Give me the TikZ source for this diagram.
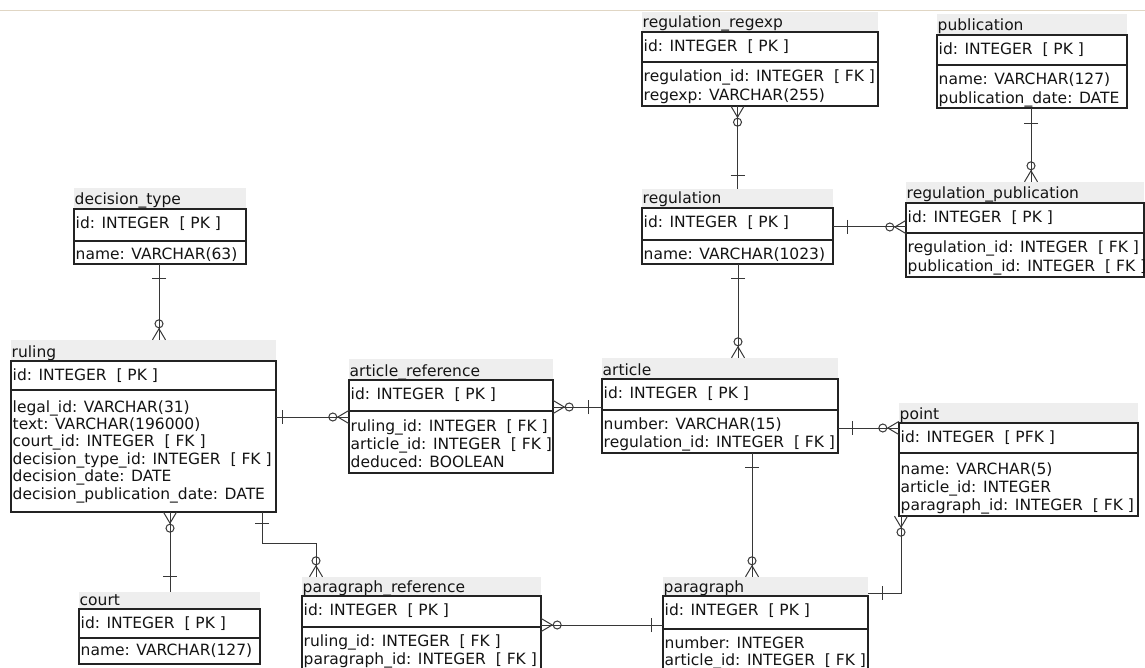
\documentclass[tikz,border=0pt]{standalone}
\usepackage{fontspec}
\setmainfont{DejaVu Sans}
\usetikzlibrary{fit}
\definecolor{hdrgray}{RGB}{238,238,238}
\definecolor{toplinec}{RGB}{224,214,196}
\definecolor{boxlinec}{RGB}{35,35,35}
\definecolor{connlinec}{RGB}{55,55,55}
\tikzset{
  txt/.style={anchor=base west, inner sep=0pt, font=\fontsize{15.5}{18}\selectfont, text=black!92},
  boxst/.style={draw=boxlinec, line width=1.2pt},
  conn/.style={draw=connlinec, line width=1pt},
}
\newcommand\ertable[9]{%
  \fill[hdrgray] (#3,#5) rectangle (#4,#6);
  \node[txt, name=#1-title] at (#3+0.5,#6-4) {#2};
  \draw[boxst] (#3,#6) rectangle (#4,#8);
  \draw[boxst] (#3,#7) -- (#4,#7);
  \node[txt, name=#1-pk] at (#3+1.5,#6+19.5) {#9};
  \coordinate (#1-nw) at (#3,#5);
  \coordinate (#1-se) at (#4,#8);
  \node[fit=(#1-nw)(#1-se), inner sep=0pt, name=#1] {};
}
\newcommand\erattrs[5]{%
  \foreach \t [count=\i] in {#5} {\node[txt, name=#1-a\i] at (#2+1.5, #3+\i*#4-#4) {\t};}
}
\newcommand\zmany[2]{\begin{scope}[shift={#1},rotate=#2]
  \draw[conn] (0,-6.5) -- (11,0) -- (0,6.5);
  \draw[conn] (16,0) circle[radius=4];
\end{scope}}
\newcommand\onebar[3]{\begin{scope}[shift={#1},rotate=#2]
  \draw[conn] (#3,-7) -- (#3,7);
\end{scope}}
\newcommand\PKt{id: INTEGER\ \ [ PK ]}
\begin{document}
\begin{tikzpicture}[x=1pt,y=-1pt]
\useasboundingbox (0,0) rectangle (1145,668);
\clip (0,0) rectangle (1145,668);
\fill[white] (0,0) rectangle (1145,668);
\draw[toplinec, line width=1pt] (0,10.5) -- (1145,10.5);

% tables
\ertable{dtype}{decision\_type}{74}{246}{188}{209}{241}{264}{\PKt}
\erattrs{dtype}{74}{260}{18}{{name: VARCHAR(63)}}

\ertable{ruling}{ruling}{11}{276}{340}{361}{390}{512}{\PKt}
\erattrs{ruling}{11}{412}{17.4}{{legal\_id: VARCHAR(31)},{text: VARCHAR(196000)},{court\_id: INTEGER\ \ [ FK ]},{decision\_type\_id: INTEGER\ \ [ FK ]},{decision\_date: DATE},{decision\_publication\_date: DATE}}

\ertable{court}{court}{79}{260}{592}{609}{638}{664}{\PKt}
\erattrs{court}{79}{655}{18}{{name: VARCHAR(127)}}

\ertable{aref}{article\_reference}{349}{553}{359}{380}{411}{473}{\PKt}
\erattrs{aref}{349}{431}{18.3}{{ruling\_id: INTEGER\ \ [ FK ]},{article\_id: INTEGER\ \ [ FK ]},{deduced: BOOLEAN}}

\ertable{article}{article}{602}{838}{358}{379}{410}{453}{\PKt}
\erattrs{article}{602}{429}{18.5}{{number: VARCHAR(15)},{regulation\_id: INTEGER\ \ [ FK ]}}

\ertable{point}{point}{899}{1138}{403}{423}{453}{516}{id: INTEGER\ \ [ PFK ]}
\erattrs{point}{899}{474}{18}{{name: VARCHAR(5)},{article\_id: INTEGER},{paragraph\_id: INTEGER\ \ [ FK ]}}

\ertable{regexp}{regulation\_regexp}{642}{878}{12}{32}{62}{106}{\PKt}
\erattrs{regexp}{642}{82}{18.5}{{regulation\_id: INTEGER\ \ [ FK ]},{regexp: VARCHAR(255)}}

\ertable{publication}{publication}{937}{1127}{14}{35}{65}{108}{\PKt}
\erattrs{publication}{937}{85}{18.5}{{name: VARCHAR(127)},{publication\_date: DATE}}

\ertable{regpub}{regulation\_publication}{906}{1144}{182}{203}{233}{277}{\PKt}
\erattrs{regpub}{906}{253}{18.5}{{regulation\_id: INTEGER\ \ [ FK ]},{publication\_id: INTEGER\ \ [ FK ]}}

\ertable{regulation}{regulation}{642}{833}{189}{208}{240}{264}{\PKt}
\erattrs{regulation}{642}{260}{18}{{name: VARCHAR(1023)}}

\ertable{pref}{paragraph\_reference}{302}{541}{577}{596}{627}{690}{\PKt}
\erattrs{pref}{302}{646}{18}{{ruling\_id: INTEGER\ \ [ FK ]},{paragraph\_id: INTEGER\ \ [ FK ]}}

\ertable{paragraph}{paragraph}{663}{868}{577}{596}{629}{690}{\PKt}
\erattrs{paragraph}{663}{648}{17.5}{{number: INTEGER},{article\_id: INTEGER\ \ [ FK ]}}

% connectors
\draw[conn] (dtype.south -| 159,0) -- (ruling.north -| 159,0);
\onebar{(dtype.south -| 159,0)}{-90}{14}
\zmany{(ruling.north -| 159,0)}{90}

\draw[conn] (ruling.south -| 170,0) -- (court.north -| 170,0);
\zmany{(ruling.south -| 170,0)}{-90}
\onebar{(court.north -| 170,0)}{90}{15}

\draw[conn] (ruling.east |- 0,417) -- (aref.west |- 0,417);
\onebar{(ruling.east |- 0,417)}{0}{6.5}
\zmany{(aref.west |- 0,417)}{180}

\draw[conn] (aref.east |- 0,407) -- (article.west |- 0,407);
\zmany{(aref.east |- 0,407)}{0}
\onebar{(article.west |- 0,407)}{180}{13}

\draw[conn] (ruling.south -| 262,0) -- (262,543) -| (pref.north -| 316,0);
\onebar{(ruling.south -| 262,0)}{-90}{11}
\zmany{(pref.north -| 316,0)}{90}

\draw[conn] (pref.east |- 0,625) -- (paragraph.west |- 0,625);
\zmany{(pref.east |- 0,625)}{0}
\onebar{(paragraph.west |- 0,625)}{180}{11}

\draw[conn] (regexp.south -| 737.5,0) -- (regulation.north -| 737.5,0);
\zmany{(regexp.south -| 737.5,0)}{-90}
\onebar{(regulation.north -| 737.5,0)}{90}{13}

\draw[conn] (regulation.south -| 738,0) -- (article.north -| 738,0);
\onebar{(regulation.south -| 738,0)}{-90}{14}
\zmany{(article.north -| 738,0)}{90}

\draw[conn] (regulation.east |- 0,227) -- (regpub.west |- 0,227);
\onebar{(regulation.east |- 0,227)}{0}{14}
\zmany{(regpub.west |- 0,227)}{180}

\draw[conn] (publication.south -| 1031,0) -- (regpub.north -| 1031,0);
\onebar{(publication.south -| 1031,0)}{-90}{15}
\zmany{(regpub.north -| 1031,0)}{90}

\draw[conn] (article.east |- 0,428) -- (point.west |- 0,428);
\onebar{(article.east |- 0,428)}{0}{14}
\zmany{(point.west |- 0,428)}{180}

\draw[conn] (article.south -| 752,0) -- (paragraph.north -| 752,0);
\onebar{(article.south -| 752,0)}{-90}{14}
\zmany{(paragraph.north -| 752,0)}{90}

\draw[conn] (point.south -| 901,0) |- (paragraph.east |- 0,593);
\zmany{(point.south -| 901,0)}{-90}
\onebar{(paragraph.east |- 0,593)}{0}{14}
\end{tikzpicture}
\end{document}
